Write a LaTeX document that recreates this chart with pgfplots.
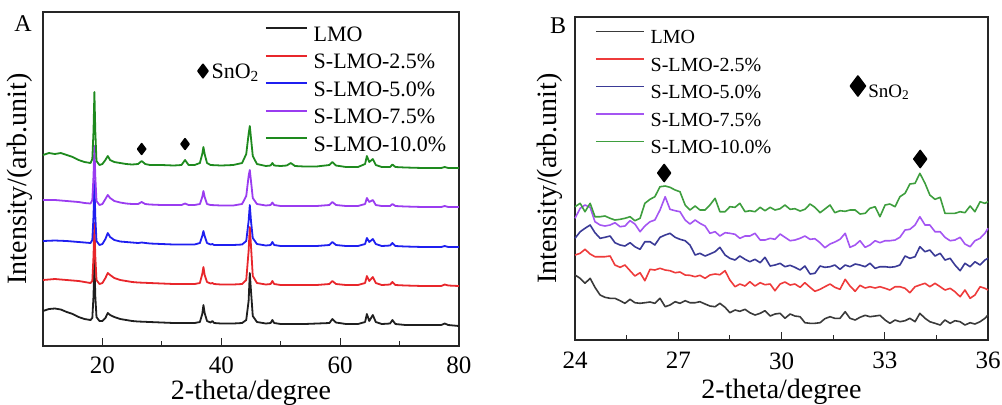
\documentclass[border=0pt]{standalone}
\usepackage{fontspec}
\setmainfont{Liberation Serif}
\usepackage{pgfplots}
\usepackage{pgfplotstable}
\pgfplotsset{compat=1.18}

\definecolor{aBlack}{HTML}{1F1F1F}
\definecolor{aRed}{HTML}{E8262B}
\definecolor{aBlue}{HTML}{1F1FF0}
\definecolor{aPurple}{HTML}{9A3CF0}
\definecolor{aGreen}{HTML}{1E8A1E}
\definecolor{bBlack}{HTML}{3A3A3A}
\definecolor{bRed}{HTML}{EE3B3B}
\definecolor{bNavy}{HTML}{3A3A96}
\definecolor{bPurple}{HTML}{A455F2}
\definecolor{bGreen}{HTML}{3E9E3E}

\pgfplotsset{
  xrd/.style={
    scale only axis, clip=false,
    axis line style={line width=0.7pt, black!85},
    ytick=\empty, xtick pos=bottom, tick align=inside,
    major tick length=4pt, minor tick length=2.5pt,
    every tick/.append style={line width=0.6pt, black!85},
    /pgf/number format/assume math mode=true,
    ticklabel style={font=\fontsize{12.5}{12.5}\selectfont, text=black},
    xticklabel style={inner sep=0pt, yshift=-5pt},
    label style={font=\fontsize{14}{14}\selectfont},
    xlabel style={at={(rel axis cs:0.5,0)}, anchor=north, inner sep=0pt, yshift=-17pt},
    ylabel style={at={(rel axis cs:0,0.5)}, anchor=south, inner sep=0pt, yshift=5pt},
    legend cell align=left,
    every axis plot/.append style={line join=round},
  }
}

% panel B: 2-theta 24-36, offset traces
\pgfplotstableread{
x lmo s25 s50 s75 s100
24.00 65 85 101.7 121.7 133.3
24.15 61.7 86.7 108.3 131.7 136.7
24.29 56.7 90.7 111.7 135 128.3
24.44 61.7 86 115 132.7 136.7
24.58 52.7 83.3 107.3 118.3 123.3
24.73 45 83.3 101.7 115 123.3
24.87 42.7 83.3 102.7 114 124
25.02 41.7 84 104 115 121.7
25.16 41.7 75 97.3 117.3 120
25.31 39.3 72.7 95 113.3 120.7
25.45 36.7 75 94 114 121.7
25.60 40.7 69.3 97.3 119.3 123.3
25.74 37.3 64 93.3 116 119.3
25.89 36.7 67.3 90.7 108.3 121.7
26.03 37.3 59.3 98.3 114 136.7
26.18 38 70.7 98.3 118.3 140.7
26.32 36.7 70 95 120 143.3
26.47 41.7 71.7 102.7 130 153.3
26.62 33.3 70 105 143.3 154
26.76 35 69.3 106.7 130.7 152.7
26.91 38.3 67.3 102.7 129.3 150
27.05 36.7 68 100.7 128.3 148.3
27.20 39.3 65 99.3 120 135
27.34 37.3 64.7 95 116 130
27.49 37.3 63.3 85 120 134
27.63 38.3 64.7 86.7 116.7 130
27.78 36 61.7 84 114 130
27.92 34 65 86 106.7 135
28.07 33.3 66 88.3 108.3 141.7
28.21 36.7 65.3 92.7 104 128.3
28.36 32.7 69.3 85 107.3 128.3
28.50 27.3 60 81.7 106.7 133.3
28.65 30 53.3 80 105.7 132.7
28.79 28.7 56 84 101.7 136.7
28.94 30.7 54 80.7 104 128.3
29.08 27.3 58.3 78.3 104 129.3
29.23 25 54 80.7 106.7 128.3
29.38 26.7 57.3 77.3 100 132.7
29.52 29.3 55.3 82.7 100 129.3
29.67 24 56 74 101.7 132.7
29.81 26 49.3 75 100.7 130
29.96 26.7 56 76.7 106 131.3
30.10 21.7 58 73.3 102.7 135
30.25 26 55 74.7 99.3 130.7
30.39 24 56 72.7 100 131.3
30.54 23.3 52.7 70 101.7 129
30.68 17.3 57.3 74 104 130.7
30.83 16.7 52.7 66 100.7 136
30.97 16.7 48.7 66.7 101.3 132.7
31.12 17.3 50.7 74 97.3 127.3
31.26 21.3 53.3 72.7 92.3 131
31.41 23.3 56 73.3 96 135
31.55 21.7 52.7 75 98 127.3
31.70 21.7 50.7 70.7 100.7 129.3
31.85 28.3 60.7 75 106.7 128.7
31.99 21.7 54 73.3 92.7 130
32.14 20 48.7 76 95 130
32.28 22.7 54.7 75 99.3 126
32.43 24.7 52 73.3 92.7 126.7
32.57 23.3 53.3 76.7 95 131.7
32.72 24 52 71.7 99.3 133.3
32.86 24.7 53.3 73.3 97.3 123.3
33.01 20 51.7 73.3 99.3 135
33.15 16.7 50 72.7 99.3 136
33.30 20 53.3 73.3 100 133.3
33.44 18.3 53.3 75 102.7 143.3
33.59 19.3 51.7 84 110 146.7
33.73 21.7 47.3 81.7 110.7 156
33.88 18.3 53.3 83.3 115 156.7
34.02 26.7 55 93.3 123.3 166.7
34.17 21.7 56.7 88.3 115 156.7
34.31 18.3 53.3 90 115 145
34.46 16.7 56.7 84 108.3 140.7
34.61 15 53.3 86.7 108.3 142.7
34.75 20 50 80 102.7 126.7
34.90 16.7 51.7 81.7 99.3 126.7
35.04 19.3 48.3 75 100 126.7
35.19 18.3 43.3 69.3 102.7 128.3
35.33 15 50 76.7 96 127.3
35.48 17.3 41.7 73.3 93.3 134
35.62 16 45 78.3 99.3 128.3
35.77 18.3 53.3 75 101.7 138.3
35.91 21.7 51.7 80 106.7 136.7
36.00 25 50 81.7 111.7 138.3
}\dataB

\begin{document}
\begin{tikzpicture}
\useasboundingbox (0,0) rectangle (501pt,-202pt);

% ---------- panel A ----------
\begin{axis}[xrd,
  at={(21.5pt,-6pt)}, anchor=north west,
  width=208pt, height=167pt,
  xmin=10, xmax=80, ymin=0, ymax=334,
  xtick={20,40,60,80}, xticklabels={20,40,60,80}, minor xtick={30,50,70},
  xlabel={2-theta/degree}, ylabel={Intensity/(arb.unit)},
  legend style={draw=none, fill=none, at={(0.533,0.958)}, anchor=north west,
    inner sep=0pt, font=\fontsize{11}{11}\selectfont, row sep=4.75pt,
    nodes={inner sep=0pt, text height=7.5pt, text depth=1.5pt},
    /tikz/every odd column/.append style={column sep=3pt}},
  legend image code/.code={\draw[#1, line width=0.8pt] (0pt,3.6pt) -- (20.5pt,3.6pt);},
  every axis plot/.append style={line width=0.9pt},
]
\addplot[aBlack] coordinates {
(10,35)(11,37)(12,37.5)(13,36.5)(14,34)(15,32)(16,29)(17,27)(18,26)(18.3,28)(18.5,50)(18.65,86)(18.8,50)(19.0,29)(19.5,25)(20,25)(20.5,28)(20.9,33)(21.3,31)(22,29)(23,27)(24,26)(25,25)(26,24.5)(28,24)(30,23.5)(32,23)(34,23)(35.5,23)(36.4,24)(36.8,32)(37.0,41)(37.2,33)(37.6,25)(38.2,23.5)(38.5,25)(38.8,23)(40,22.5)(42,22.5)(43.5,23)(44.2,26)(44.6,45)(44.8,73)(45.0,55)(45.3,30)(46,24)(47.5,22.5)(48.3,23)(48.6,26)(48.9,23)(50,22)(54,22)(58.2,23)(58.7,27)(59.3,23.5)(61,22)(63,22)(64.2,24)(64.5,32)(64.9,25)(65.5,31)(66.0,24)(67,22)(68.4,22.5)(68.8,26)(69.3,22)(71,21)(77,21)(77.6,22.5)(78.2,21)(80,20)};
\addplot[aRed] coordinates {
(10,66)(12,67)(14,66)(16,65)(17,64)(18,63)(18.3,65)(18.5,90)(18.65,123)(18.8,90)(19.0,66)(19.5,62)(20,63)(20.5,68)(20.9,73)(21.3,71)(22,68)(23,66)(24,65)(25,64)(26,63.5)(28,63)(30,62.5)(32,62)(34,62)(35.5,62)(36.4,63)(36.8,72)(37.0,79)(37.2,71)(37.6,64)(38.2,62.5)(38.5,63)(38.8,62)(40,61.5)(42,61.5)(43.5,62)(44.2,66)(44.6,95)(44.8,119)(45.0,100)(45.3,70)(46,63)(47.5,61.5)(48.3,62)(48.6,65)(48.9,62)(50,61)(56,61)(58.2,62)(58.7,65)(59.3,62)(61,61)(63,61)(64.2,63)(64.5,70)(64.9,65)(65.5,69)(66.0,63)(67,61)(68.4,61.5)(68.8,64)(69.3,61)(71,60.5)(74,60)(77,60)(77.6,61.5)(78.2,60.5)(80,60)};
\addplot[aBlue] coordinates {
(10,105)(12,105.5)(14,105)(16,104)(17,103.5)(18,103)(18.3,106)(18.5,130)(18.65,165)(18.8,130)(19.0,105)(19.5,101)(20,102)(20.5,107)(20.9,113)(21.3,109)(22,106)(23,104.5)(24,104)(25,103.5)(26,103)(26.6,103.5)(28,102.5)(30,102)(32,101.5)(35.5,101.5)(36.4,103)(36.8,110)(37.0,115)(37.2,110)(37.6,103)(38.2,101.5)(38.5,102)(38.8,101)(40,101)(42,101)(43.5,101.5)(44.2,105)(44.6,125)(44.8,141)(45.0,125)(45.3,108)(46,102)(47.5,100.5)(48.3,101)(48.6,104)(48.9,101)(50,100)(56,100)(58.2,101)(58.7,104)(59.3,101)(61,100)(63,100)(64.2,102)(64.5,108)(64.9,104)(65.5,107)(66.0,102)(67,100)(68.4,100.5)(68.8,103)(69.3,100)(71,99.5)(74,99)(77,99)(77.6,100)(78.2,99)(80,99)};
\addplot[aPurple] coordinates {
(10,146)(12,146)(14,145)(16,144)(17,143)(18,142.5)(18.3,146)(18.5,170)(18.65,200)(18.8,170)(19.0,145)(19.5,141)(20,142)(20.5,147)(20.9,151)(21.3,148)(22,145)(23,143.5)(24,142.5)(25,142)(26,142)(26.6,144)(27.2,142)(28,141.5)(30,141)(33.3,141)(33.9,142.5)(34.5,141)(35.5,141)(36.4,142)(36.8,149)(37.0,155)(37.2,149)(37.6,142)(38.2,141)(40,140.5)(42,140.5)(43.5,142)(44.2,150)(44.6,170)(44.8,176)(45.0,165)(45.3,148)(46,142)(47.5,140.5)(48.3,141)(48.6,143.5)(48.9,141)(50,140)(56,140)(58.2,141)(58.7,144)(59.3,141)(61,140)(63,140)(64.2,142)(64.5,148)(64.9,144)(65.5,146)(66,141)(67,140)(68.4,140)(68.8,142)(69.3,140)(71,139.5)(74,139)(77,139)(77.6,140)(78.2,139)(80,139)};
\addplot[aGreen] coordinates {
(10,191)(11,193)(12,192)(13,193)(14,191)(15,189)(16,186)(17,184)(18,183)(18.3,187)(18.5,215)(18.65,254)(18.8,215)(19.0,185)(19.5,181)(20,182)(20.5,186)(20.9,190)(21.3,186)(22,184)(23,183)(24,182)(25,181.5)(26,182)(26.6,185)(27.2,182)(28,181)(30,181)(32,180.5)(33.3,181)(33.9,186)(34.5,181)(35.5,181)(36.4,183)(36.8,192)(37.0,199)(37.2,192)(37.6,183)(38.2,181)(40,180.5)(42,181)(43.5,183)(44.2,192)(44.6,212)(44.8,220)(45.0,208)(45.3,190)(46,182)(47.5,180)(48.3,180.5)(48.6,183)(48.9,180.5)(50,180)(51,180.5)(51.7,183)(52.4,180)(54,179.5)(56,179.5)(58.2,181)(58.7,184)(59.3,180.5)(61,179)(63,179)(64.2,182)(64.5,190)(64.9,184)(65.5,187)(66,181)(67,179)(68.4,179)(68.8,181.5)(69.3,179)(71,178.5)(74,178)(77,178)(77.6,179)(78.2,178)(80,178)};
\legend{LMO, S-LMO-2.5\%, S-LMO-5.0\%, S-LMO-7.5\%, S-LMO-10.0\%}
\addplot[only marks, mark=diamond*, mark size=2.6pt, black, forget plot] coordinates {(26.6,197)(33.9,202)};
\addplot[only marks, mark=diamond*, mark size=3.3pt, black, forget plot] coordinates {(36.92,275)};
\node[anchor=base west, inner sep=0pt, font=\fontsize{11}{11}\selectfont] at (axis cs:38.3,268) {SnO\textsubscript{2}};
\node[font=\fontsize{12}{12}\selectfont] at (rel axis cs:-0.048,0.964) {A};
\end{axis}

% ---------- panel B ----------
\begin{axis}[xrd,
  at={(287.5pt,-8.5pt)}, anchor=north west,
  width=206.5pt, height=161.5pt,
  xmin=24, xmax=36, ymin=0, ymax=323,
  xtick={24,27,30,33,36}, minor xtick={25.5,28.5,31.5,34.5},
  xticklabel style={yshift=-1pt},
  xlabel={2-theta/degree}, ylabel={Intensity/(arb.unit)},
  xlabel style={yshift=-2.5pt},
  ylabel style={yshift=1pt},
  legend style={draw=none, fill=none, at={(0.048,0.962)}, anchor=north west,
    inner sep=0pt, font=\fontsize{10}{10}\selectfont, row sep=5.25pt,
    nodes={inner sep=0pt, text height=7pt, text depth=1.5pt},
    /tikz/every odd column/.append style={column sep=3pt}},
  legend image code/.code={\draw[#1, line width=0.7pt] (0pt,3.3pt) -- (24pt,3.3pt);},
  every axis plot/.append style={line width=0.8pt},
]
\addplot[bBlack] table[x=x, y=lmo] {\dataB};
\addplot[bRed] table[x=x, y=s25] {\dataB};
\addplot[bNavy] table[x=x, y=s50] {\dataB};
\addplot[bPurple] table[x=x, y=s75] {\dataB};
\addplot[bGreen] table[x=x, y=s100] {\dataB};
\legend{LMO, S-LMO-2.5\%, S-LMO-5.0\%, S-LMO-7.5\%, S-LMO-10.0\%}
\addplot[only marks, mark=diamond*, mark size=4.25pt, black, forget plot] coordinates {(26.59,167)(34.03,181)};
\addplot[only marks, mark=diamond*, mark size=5pt, black, forget plot] coordinates {(32.22,254)};
\node[anchor=base west, inner sep=0pt, font=\fontsize{9.5}{9.5}\selectfont] at (axis cs:32.51,243) {SnO\textsubscript{2}};
\node[font=\fontsize{12}{12}\selectfont] at (rel axis cs:-0.041,0.972) {B};
\end{axis}
\end{tikzpicture}
\end{document}
